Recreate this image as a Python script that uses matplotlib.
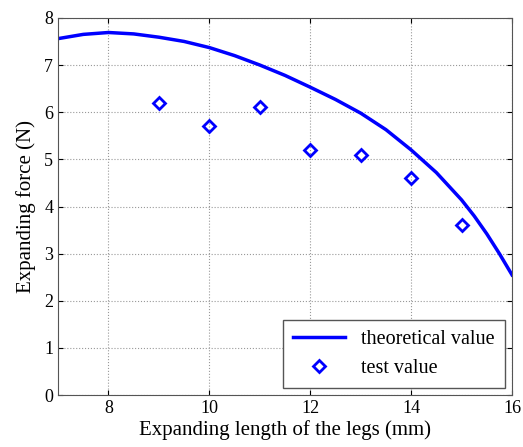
import matplotlib
matplotlib.use("Agg")
import matplotlib.pyplot as plt

# theoretical curve
theory_x = [7, 7.5, 8, 8.5, 9, 9.5, 10, 10.5, 11, 11.5, 12, 12.5, 13, 13.5, 14, 14.5, 15, 15.25, 15.5, 15.75, 16]
theory_y = [7.56, 7.65, 7.69, 7.66, 7.59, 7.5, 7.37, 7.2, 7.0, 6.78, 6.53, 6.27, 5.98, 5.63, 5.2, 4.72, 4.14, 3.8, 3.42, 3.0, 2.55]

# measured points
test_x = [9, 10, 11, 12, 13, 14, 15]
test_y = [6.2, 5.7, 6.1, 5.2, 5.1, 4.6, 3.6]

plt.rcParams['font.family'] = ['Liberation Serif', 'DejaVu Serif']

fig = plt.figure(figsize=(5.23, 4.47), dpi=100)
ax = fig.add_axes([0.111, 0.116, 0.868, 0.844])

ax.plot(theory_x, theory_y, color='#0000ff', lw=2.5, label='theoretical value')
ax.plot(test_x, test_y, ls='none', marker='D', ms=6, mfc='none', mec='#0000ff', mew=2,
        label='test value')

ax.set_xlim(7, 16)
ax.set_ylim(0, 8)
ax.set_xticks([8, 10, 12, 14, 16])
ax.set_yticks(range(0, 9))
ax.grid(True, ls=':', color='#999999', lw=0.8)
ax.tick_params(direction='in', labelsize=13, top=True, right=True)
for s in ax.spines.values():
    s.set_color('#555555')

ax.set_xlabel('Expanding length of the legs (mm)', fontsize=15, labelpad=2)
ax.set_ylabel('Expanding force (N)', fontsize=15, labelpad=6)

leg = ax.legend(loc='lower right', fontsize=14.5, fancybox=False, framealpha=1,
                edgecolor='#555555', handlelength=2.6, borderpad=0.5,
                borderaxespad=0.35)

fig.savefig('out.png', dpi=100)
